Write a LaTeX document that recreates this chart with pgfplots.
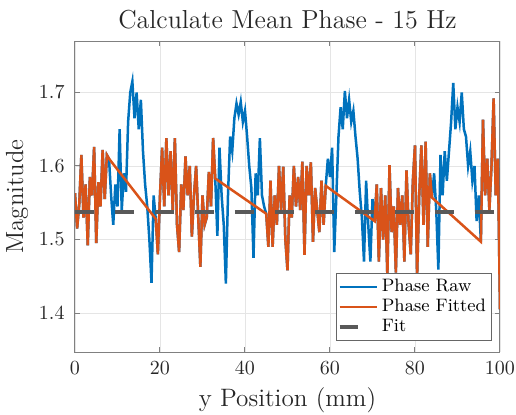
\documentclass[border=0pt]{standalone}
\usepackage{pgfplots}
\usepackage{pgfplotstable}
\pgfplotsset{compat=1.18}
\definecolor{mblue}{rgb}{0,0.447,0.741}
\definecolor{morange}{rgb}{0.850,0.325,0.098}
\definecolor{mgray}{rgb}{0.35,0.35,0.35}
\pgfplotstableread{
x raw fit
0 1.563 1.563
0.5 1.515 1.515
1.0 1.548 1.548
1.5 1.615 1.615
2.0 1.530 1.530
2.5 1.575 1.575
3.0 1.492 1.492
3.5 1.585 1.585
4.0 1.560 1.560
4.5 1.626 1.626
5.0 1.495 1.495
5.5 1.578 1.578
6.0 1.545 1.545
6.5 1.622 1.622
7.0 1.555 1.555
7.5 1.615 1.615
8.0 1.610 1.610
8.5 1.560 nan
9.0 1.520 nan
9.5 1.575 nan
10.0 1.545 nan
10.5 1.650 nan
11.0 1.540 nan
11.5 1.590 nan
12.0 1.565 nan
12.5 1.660 nan
13.0 1.700 nan
13.5 1.715 nan
14.0 1.665 nan
14.5 1.700 nan
15.0 1.650 nan
15.5 1.690 nan
16.0 1.620 nan
16.5 1.575 nan
17.0 1.545 nan
17.5 1.500 nan
18.0 1.441 nan
18.5 1.560 nan
19.0 1.528 1.528
19.5 1.480 1.480
20.0 1.560 1.560
20.5 1.625 1.625
21.0 1.545 1.545
21.5 1.638 1.638
22.0 1.560 1.560
22.5 1.620 1.620
23.0 1.540 1.540
23.5 1.638 1.638
24.0 1.520 1.520
24.5 1.483 1.483
25.0 1.575 1.575
25.5 1.540 1.540
26.0 1.613 1.613
26.5 1.560 1.560
27.0 1.600 1.600
27.5 1.504 1.504
28.0 1.560 1.560
28.5 1.600 1.600
29.0 1.530 1.530
29.5 1.463 1.463
30.0 1.560 1.560
30.5 1.520 1.520
31.0 1.530 1.530
31.5 1.592 1.592
32.0 1.545 1.545
32.5 1.638 1.638
33.0 1.583 1.583
33.5 1.505 nan
34.0 1.625 nan
34.5 1.560 nan
35.0 1.520 nan
35.5 1.440 nan
36.0 1.560 nan
36.5 1.640 nan
37.0 1.620 nan
37.5 1.665 nan
38.0 1.685 nan
38.5 1.670 nan
39.0 1.687 nan
39.5 1.660 nan
40.0 1.675 nan
40.5 1.640 nan
41.0 1.600 nan
41.5 1.570 nan
42.0 1.475 nan
42.5 1.590 nan
43.0 1.560 nan
43.5 1.638 nan
44.0 1.560 nan
44.5 1.545 nan
45.0 1.535 1.535
45.5 1.490 1.490
46.0 1.580 1.580
46.5 1.490 1.490
47.0 1.560 1.560
47.5 1.520 1.520
48.0 1.600 1.600
48.5 1.540 1.540
49.0 1.599 1.599
49.5 1.500 1.500
50.0 1.458 1.458
50.5 1.560 1.560
51.0 1.530 1.530
51.5 1.600 1.600
52.0 1.545 1.545
52.5 1.585 1.585
53.0 1.540 1.540
53.5 1.606 1.606
54.0 1.479 1.479
54.5 1.600 1.600
55.0 1.560 1.560
55.5 1.605 1.605
56.0 1.497 1.497
56.5 1.570 1.570
57.0 1.540 1.540
57.5 1.510 1.510
58.0 1.580 1.580
58.5 1.520 1.520
59.0 1.573 1.573
59.5 1.610 nan
60.0 1.585 nan
60.5 1.625 nan
61.0 1.483 nan
61.5 1.560 nan
62.0 1.640 nan
62.5 1.680 nan
63.0 1.650 nan
63.5 1.702 nan
64.0 1.665 nan
64.5 1.690 nan
65.0 1.660 nan
65.5 1.675 nan
66.0 1.640 nan
66.5 1.610 nan
67.0 1.565 nan
67.5 1.530 nan
68.0 1.470 nan
68.5 1.580 nan
69.0 1.520 nan
69.5 1.470 nan
70.0 1.555 nan
70.5 1.525 1.525
71.0 1.575 1.575
71.5 1.470 1.470
72.0 1.570 1.570
72.5 1.500 1.500
73.0 1.560 1.560
73.5 1.450 1.450
74.0 1.601 1.601
74.5 1.510 1.510
75.0 1.545 1.545
75.5 1.455 1.455
76.0 1.570 1.570
76.5 1.520 1.520
77.0 1.560 1.560
77.5 1.470 1.470
78.0 1.594 1.594
78.5 1.520 1.520
79.0 1.480 1.480
79.5 1.580 1.580
80.0 1.628 1.628
80.5 1.450 1.450
81.0 1.560 1.560
81.5 1.628 1.628
82.0 1.520 1.520
82.5 1.633 1.633
83.0 1.490 1.490
83.5 1.590 1.590
84.0 1.557 1.557
84.5 1.590 nan
85.0 1.540 nan
85.5 1.459 nan
86.0 1.615 nan
86.5 1.560 nan
87.0 1.620 nan
87.5 1.580 nan
88.0 1.620 nan
88.5 1.660 nan
89.0 1.713 nan
89.5 1.650 nan
90.0 1.680 nan
90.5 1.660 nan
91.0 1.700 nan
91.5 1.650 nan
92.0 1.640 nan
92.5 1.600 nan
93.0 1.620 nan
93.5 1.580 nan
94.0 1.600 nan
94.5 1.525 nan
95.0 1.560 nan
95.5 1.497 1.497
96.0 1.663 1.663
96.5 1.560 1.560
97.0 1.610 1.610
97.5 1.540 1.540
98.0 1.600 1.600
98.5 1.692 1.692
99.0 1.560 1.560
99.5 1.610 1.610
100.0 1.405 1.405
}\datatab
\begin{document}
\begin{tikzpicture}
\path[use as bounding box] (-37.5pt,-31pt) rectangle (220.5pt,176pt);
\begin{axis}[
  at={(0,0)}, anchor=south west,
  width=212.5pt, height=155.5pt, scale only axis,
  xmin=0, xmax=100, ymin=1.347, ymax=1.770,
  xtick={0,20,40,60,80,100}, ytick={1.4,1.5,1.6,1.7},
  grid=major, major grid style={black!10, line width=0.4pt},
  axis line style={black!50, line width=0.5pt},
  tick style={black!50, line width=0.5pt},
  tick align=inside, xtick pos=both, ytick pos=both, major tick length=2.5pt,
  ticklabel style={font=\fontsize{10}{12}\selectfont, text=black!85},
  xticklabel style={yshift=-1.5pt},
  yticklabel style={xshift=-1.7pt},
  title={Calculate Mean Phase - 15 Hz},
  every axis title/.style={at={(axis description cs:0.5,1.0675)}, anchor=center, font=\fontsize{13}{16}\selectfont, text=black!85},
  xlabel={y Position (mm)}, ylabel={Magnitude},
  xlabel style={at={(axis description cs:0.5,-0.155)}, anchor=center, font=\fontsize{12.6}{15}\selectfont, text=black!85},
  ylabel style={at={(axis description cs:-0.1365,0.5)}, anchor=center, font=\fontsize{12.4}{15}\selectfont, text=black!85},
  legend style={at={(axis description cs:0.981,0.0354)}, anchor=south east, draw=black!60, line width=0.5pt, fill=white, font=\fontsize{9}{11}\selectfont, inner sep=0.8pt, row sep=-1.6pt},
  legend cell align=left,
  legend image code/.code={\draw[#1] (0pt,0pt) -- (18.5pt,0pt);},
]
\addplot[mblue, line width=1.25pt] table[x=x,y=raw]{\datatab};
\addplot[morange, line width=1.25pt] table[x=x,y=fit]{\datatab};
\addplot[mgray, line width=2pt, dash pattern=on 9.3pt off 10.7pt,
  legend image code/.code={\draw[mgray, line width=2pt] (0pt,0pt) -- (13.7pt,0pt);}] coordinates {(0,1.537) (100,1.537)};
\legend{Phase Raw, Phase Fitted, Fit}
\end{axis}
\end{tikzpicture}
\end{document}
